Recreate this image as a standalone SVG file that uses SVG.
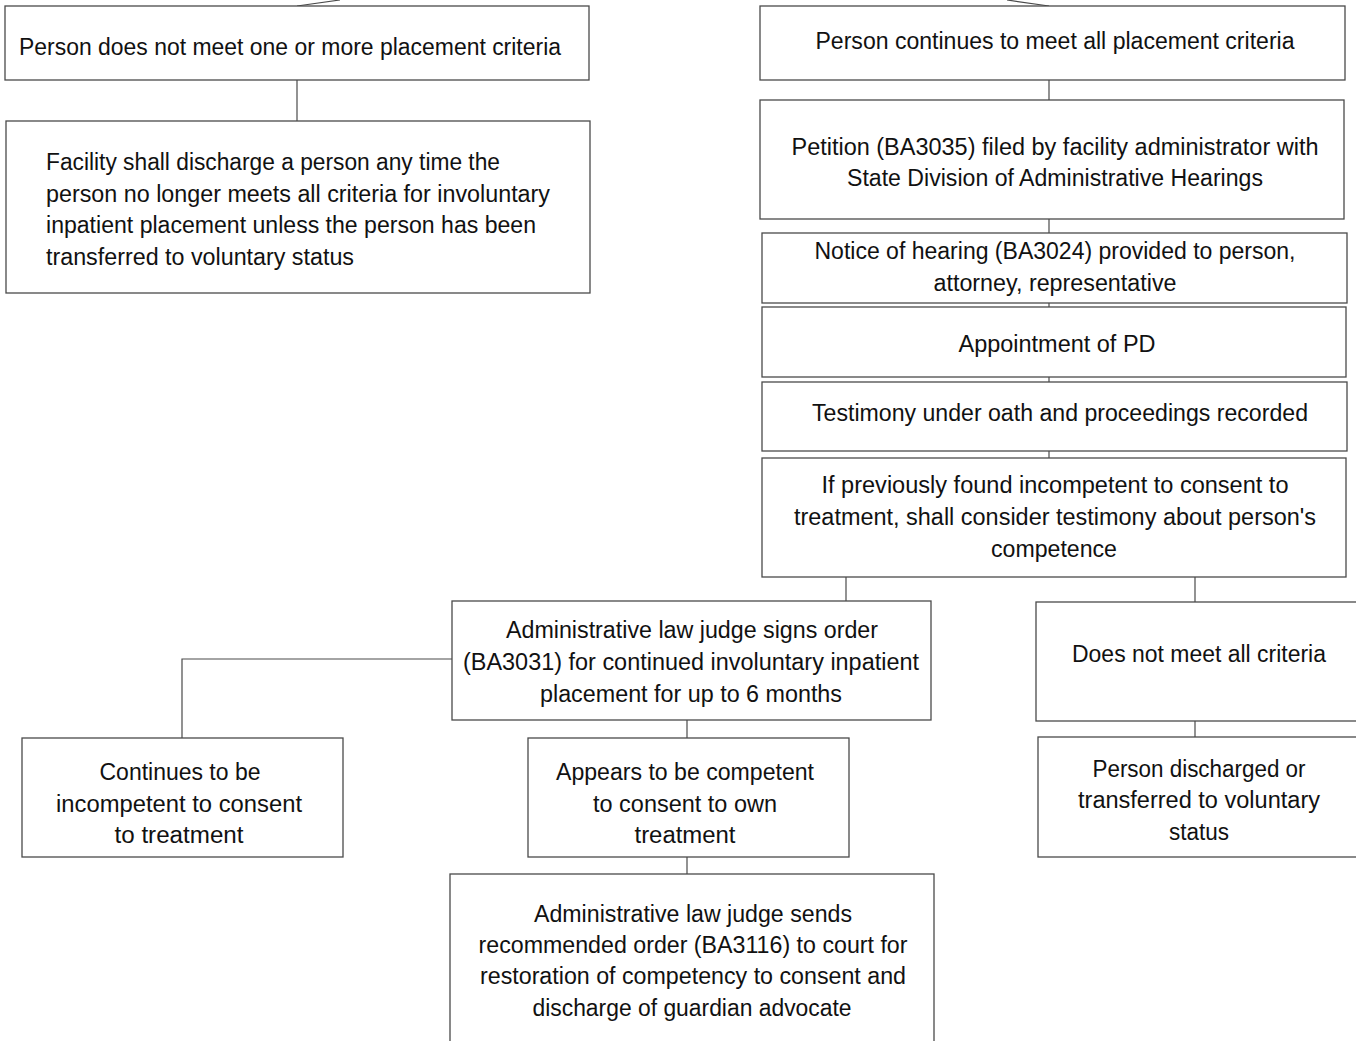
<svg xmlns="http://www.w3.org/2000/svg" width="1356" height="1041" viewBox="0 0 1356 1041">
<style>
.box{fill:#fff;stroke:#4a4a4a;stroke-width:1.3}
.con{fill:none;stroke:#4a4a4a;stroke-width:1.2}
text{font-family:"Liberation Sans",Arial,sans-serif;font-size:23px;fill:#111}
.c{text-anchor:middle}
</style>
<rect width="1356" height="1041" fill="#fff"/>
<g id="connectors">
<path class="con" d="M297,6 L340,0"/>
<path class="con" d="M1007,0 L1049,6"/>
<path class="con" d="M297,80 V121"/>
<path class="con" d="M1049,80 V100"/>
<path class="con" d="M1049,219 V233"/>
<path class="con" d="M1049,303 V307"/>
<path class="con" d="M1049,377 V382"/>
<path class="con" d="M1049,451 V458"/>
<path class="con" d="M846,577 V601"/>
<path class="con" d="M1195,577 V602"/>
<path class="con" d="M452,659 H182 V738"/>
<path class="con" d="M687,720 V738"/>
<path class="con" d="M687,857 V874"/>
<path class="con" d="M1195,721 V737"/>
</g>
<g id="node-not-meet">
<rect class="box" x="5" y="6" width="584" height="74"/>
<text class="c" x="290" y="55" textLength="542" lengthAdjust="spacingAndGlyphs">Person does not meet one or more placement criteria</text>
</g>
<g id="node-facility-discharge">
<rect class="box" x="6" y="121" width="584" height="172"/>
<text x="46" y="170" textLength="454" lengthAdjust="spacingAndGlyphs">Facility shall discharge a person any time the</text>
<text x="46" y="202" textLength="504" lengthAdjust="spacingAndGlyphs">person no longer meets all criteria for involuntary</text>
<text x="46" y="233" textLength="490" lengthAdjust="spacingAndGlyphs">inpatient placement unless the person has been</text>
<text x="46" y="265" textLength="308" lengthAdjust="spacingAndGlyphs">transferred to voluntary status</text>
</g>
<g id="node-continues-meet">
<rect class="box" x="760" y="6" width="585" height="74"/>
<text class="c" x="1055" y="49" textLength="479" lengthAdjust="spacingAndGlyphs">Person continues to meet all placement criteria</text>
</g>
<g id="node-petition">
<rect class="box" x="760" y="100" width="584" height="119"/>
<text class="c" x="1055" y="155" textLength="527" lengthAdjust="spacingAndGlyphs">Petition (BA3035) filed by facility administrator with</text>
<text class="c" x="1055" y="186" textLength="416" lengthAdjust="spacingAndGlyphs">State Division of Administrative Hearings</text>
</g>
<g id="node-notice">
<rect class="box" x="762" y="233" width="585" height="70"/>
<text class="c" x="1055" y="259" textLength="481" lengthAdjust="spacingAndGlyphs">Notice of hearing (BA3024) provided to person,</text>
<text class="c" x="1055" y="291" textLength="243" lengthAdjust="spacingAndGlyphs">attorney, representative</text>
</g>
<g id="node-appointment">
<rect class="box" x="762" y="307" width="584" height="70"/>
<text class="c" x="1057" y="352" textLength="197" lengthAdjust="spacingAndGlyphs">Appointment of PD</text>
</g>
<g id="node-testimony">
<rect class="box" x="762" y="382" width="585" height="69"/>
<text class="c" x="1060" y="421" textLength="496" lengthAdjust="spacingAndGlyphs">Testimony under oath and proceedings recorded</text>
</g>
<g id="node-previously">
<rect class="box" x="762" y="458" width="584" height="119"/>
<text class="c" x="1055" y="493" textLength="467" lengthAdjust="spacingAndGlyphs">If previously found incompetent to consent to</text>
<text class="c" x="1055" y="525" textLength="522" lengthAdjust="spacingAndGlyphs">treatment, shall consider testimony about  person's</text>
<text class="c" x="1054" y="557" textLength="126" lengthAdjust="spacingAndGlyphs">competence</text>
</g>
<g id="node-judge-signs">
<rect class="box" x="452" y="601" width="479" height="119"/>
<text class="c" x="692" y="638" textLength="372" lengthAdjust="spacingAndGlyphs">Administrative law judge signs order</text>
<text class="c" x="691" y="670" textLength="456" lengthAdjust="spacingAndGlyphs">(BA3031) for continued involuntary inpatient</text>
<text class="c" x="691" y="702" textLength="302" lengthAdjust="spacingAndGlyphs">placement for up to 6 months</text>
</g>
<g id="node-continues-incompetent">
<rect class="box" x="22" y="738" width="321" height="119"/>
<text class="c" x="180" y="780" textLength="161" lengthAdjust="spacingAndGlyphs">Continues to be</text>
<text class="c" x="179" y="812" textLength="246" lengthAdjust="spacingAndGlyphs">incompetent to consent</text>
<text class="c" x="179" y="843" textLength="129" lengthAdjust="spacingAndGlyphs">to treatment</text>
</g>
<g id="node-appears-competent">
<rect class="box" x="528" y="738" width="321" height="119"/>
<text class="c" x="685" y="780" textLength="258" lengthAdjust="spacingAndGlyphs">Appears to be competent</text>
<text class="c" x="685" y="812" textLength="184" lengthAdjust="spacingAndGlyphs">to consent to own</text>
<text class="c" x="685" y="843" textLength="101" lengthAdjust="spacingAndGlyphs">treatment</text>
</g>
<g id="node-judge-sends">
<rect class="box" x="450" y="874" width="484" height="200"/>
<text class="c" x="693" y="922" textLength="318" lengthAdjust="spacingAndGlyphs">Administrative law judge sends</text>
<text class="c" x="693" y="953" textLength="429" lengthAdjust="spacingAndGlyphs">recommended order (BA3116) to court for</text>
<text class="c" x="693" y="984" textLength="426" lengthAdjust="spacingAndGlyphs">restoration of competency to consent and</text>
<text class="c" x="692" y="1016" textLength="319" lengthAdjust="spacingAndGlyphs">discharge of guardian advocate</text>
</g>
<g id="node-does-not-meet">
<rect class="box" x="1036" y="602" width="340" height="119"/>
<text class="c" x="1199" y="662" textLength="254" lengthAdjust="spacingAndGlyphs">Does not meet all criteria</text>
</g>
<g id="node-discharged">
<rect class="box" x="1038" y="737" width="340" height="120"/>
<text class="c" x="1199" y="777" textLength="213" lengthAdjust="spacingAndGlyphs">Person discharged or</text>
<text class="c" x="1199" y="808" textLength="242" lengthAdjust="spacingAndGlyphs">transferred to voluntary</text>
<text class="c" x="1199" y="840" textLength="60" lengthAdjust="spacingAndGlyphs">status</text>
</g>
</svg>
